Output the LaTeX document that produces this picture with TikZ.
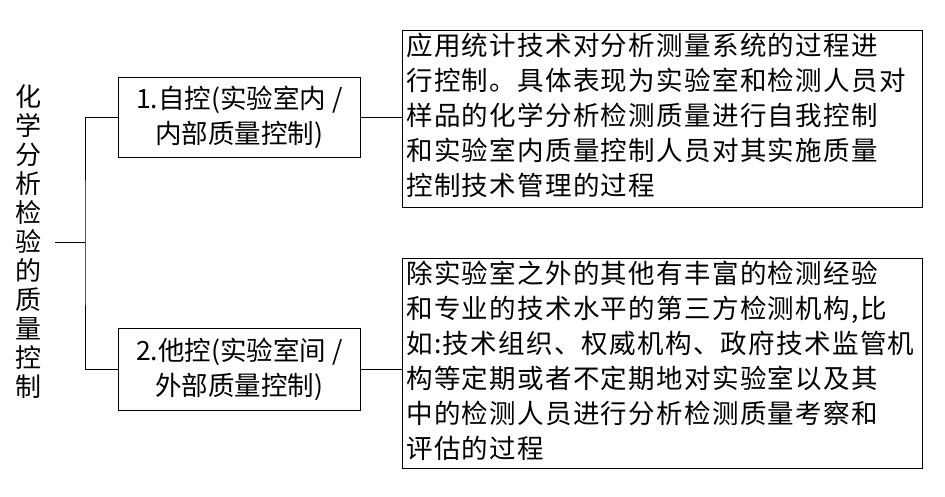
\documentclass[tikz,border=0pt]{standalone}
\usepackage{fontspec}
\newfontfamily\cjk{Noto Sans CJK SC}
\newfontfamily\cjksp[LetterSpace=5]{Noto Sans CJK SC}
\begin{document}
\begin{tikzpicture}[x=1pt,y=-1pt,
  box/.style={draw,line width=0.8pt,inner sep=0pt},
  txt/.style={font=\cjk\fontsize{26.5}{35}\selectfont,align=left,anchor=north west,inner sep=0pt},
  stxt/.style={txt,font=\cjksp\fontsize{26.5}{35}\selectfont},
  ln/.style={line width=0.8pt}]
\useasboundingbox (0,0) rectangle (945,497);
\node[font=\cjk\fontsize{26}{29}\selectfont,align=center,inner sep=0pt] (title) at (28,242) {化\\学\\分\\析\\检\\验\\的\\质\\量\\控\\制};
\node[box,minimum width=242,minimum height=80,anchor=north west] (b1) at (118,77) {};
\node[txt,anchor=center,align=center] at (b1.center) {1.自控(实验室内 /\\内部质量控制)};
\node[box,minimum width=242,minimum height=82,anchor=north west] (b2) at (118,328) {};
\node[txt,anchor=center,align=center] at (b2.center) {2.他控(实验室间 /\\外部质量控制)};
\node[box,minimum width=520,minimum height=177,anchor=north west] (b3) at (402,30) {};
\node[stxt] at (406,33) {应用统计技术对分析测量系统的过程进\\行控制。具体表现为实验室和检测人员对\\样品的化学分析检测质量进行自我控制\\和实验室内质量控制人员对其实施质量\\控制技术管理的过程};
\node[box,minimum width=520,minimum height=210,anchor=north west] (b4) at (402,258) {};
\node[stxt] at (406,261) {除实验室之外的其他有丰富的检测经验\\和专业的技术水平的第三方检测机构,比\\如:技术组织、权威机构、政府技术监管机\\构等定期或者不定期地对实验室以及其\\中的检测人员进行分析检测质量考察和\\评估的过程};
\coordinate (j) at (85,242);
\draw[ln] (55,242) -- (j);
\draw[ln] (b1.west) -| (j) |- (b2.west);
\draw[ln] (b1.east) -- (b3.west |- b1.east);
\draw[ln] (b2.east) -- (b4.west |- b2.east);
\end{tikzpicture}
\end{document}
